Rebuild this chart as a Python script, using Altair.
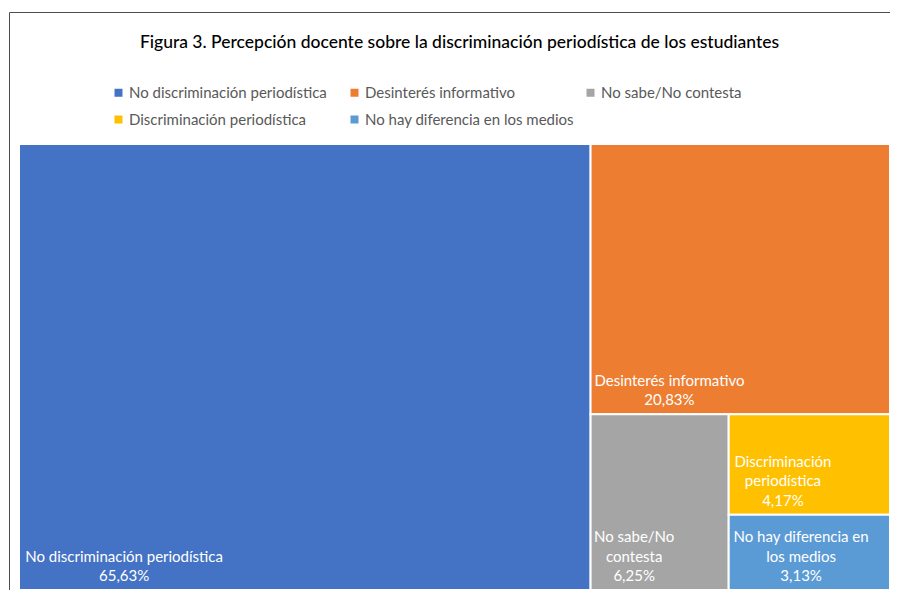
import altair as alt
import pandas as pd

# ---- data ----
categories = [
    "No discriminación periodística",
    "Desinterés informativo",
    "No sabe/No contesta",
    "Discriminación periodística",
    "No hay diferencia en los medios",
]
values = [65.63, 20.83, 6.25, 4.17, 3.13]
pct_labels = ["65,63%", "20,83%", "6,25%", "4,17%", "3,13%"]
label_lines = [
    ["No discriminación periodística"],
    ["Desinterés informativo"],
    ["No sabe/No", "contesta"],
    ["Discriminación", "periodística"],
    ["No hay diferencia en", "los medios"],
]
colors = ["#4472C4", "#ED7D31", "#A5A5A5", "#FFC000", "#5B9BD5"]
title_text = "Figura 3. Percepción docente sobre la discriminación periodística de los estudiantes"

W, H = 871, 446
FONT = "Lato"
FS = 15
LH = 19.5


def squarify(vals, x, y, w, h):
    rects = []
    vals = list(vals)

    def worst(row, short):
        s = sum(row)
        t = s / short
        return max(max(t * t / v, v / (t * t)) for v in row)

    while vals:
        short = min(w, h)
        row = [vals[0]]
        i = 1
        while i < len(vals) and worst(row + [vals[i]], short) <= worst(row, short):
            row.append(vals[i])
            i += 1
        t = sum(row) / short
        if w >= h:
            cy = y
            for v in row:
                rects.append((x, cy, x + t, cy + v / t))
                cy += v / t
            x += t
            w -= t
        else:
            cx = x
            for v in row:
                rects.append((cx, y, cx + v / t, y + t))
                cx += v / t
            y += t
            h -= t
        vals = vals[i:]
    return rects


total = sum(values)
areas = [v / total * W * H for v in values]
rects = squarify(areas, 0.0, 0.0, float(W), float(H))


def text_width(s, size=FS):
    narrow = set("ilíjtfr/,. I")
    wide = set("mwMNDH%")
    w = 0.0
    for ch in s:
        if ch in narrow:
            w += 0.30
        elif ch in wide:
            w += 0.78
        else:
            w += 0.52
    return w * size


rows = []
for cat, val, pct, lines, (x0, y0, x1, y1) in zip(categories, values, pct_labels, label_lines, rects):
    allines = lines + [pct]
    bw = max(text_width(s) for s in allines)
    n = len(allines)
    rows.append({
        "cat": cat,
        "value": val,
        "x0": x0 / W, "x1": x1 / W,
        "y0": y0 / H, "y1": y1 / H,
        "tx": (x0 + 4 + bw / 2) / W,
        "ty": (y1 - (n - 1) * LH) / H,
        "label": "\n".join(allines),
    })
df = pd.DataFrame(rows)

xs = alt.Scale(domain=[0, 1], nice=False, zero=False)
ys = alt.Scale(domain=[0, 1], nice=False, zero=False, reverse=True)

rect = alt.Chart(df).mark_rect(stroke="white", strokeWidth=2).encode(
    x=alt.X("x0:Q", scale=xs, axis=None),
    x2="x1:Q",
    y=alt.Y("y0:Q", scale=ys, axis=None),
    y2="y1:Q",
    color=alt.Color(
        "cat:N",
        scale=alt.Scale(domain=categories, range=colors),
        sort=categories,
        legend=alt.Legend(
            title=None,
            orient="none",
            direction="horizontal",
            legendX=92,
            legendY=-59,
            columns=3,
            gridAlign="all",
            symbolType="square",
            symbolSize=64,
            symbolStrokeWidth=0,
            labelFont=FONT,
            labelFontSize=FS,
            labelColor="#595959",
            labelOffset=3,
            labelLimit=400,
            rowPadding=11,
            columnPadding=9,
            padding=0,
        ),
    ),
)

text = alt.Chart(df).mark_text(
    align="center", baseline="bottom", dy=-6, fontSize=FS, font=FONT,
    color="white", lineBreak="\n", lineHeight=LH,
).encode(
    x=alt.X("tx:Q", scale=xs),
    y=alt.Y("ty:Q", scale=ys),
    text="label:N",
)

frame = pd.DataFrame({"a": [0]})
top_rule = alt.Chart(frame).mark_rule(color="#4d4d4d", strokeWidth=1).encode(
    x=alt.value(-9.5), x2=alt.value(W), y=alt.value(-131.5)
)
left_rule = alt.Chart(frame).mark_rule(color="#4d4d4d", strokeWidth=1).encode(
    x=alt.value(-9.5), y=alt.value(-131.5), y2=alt.value(H)
)

chart = alt.layer(rect, text, top_rule, left_rule).properties(
    width=W,
    height=H,
    autosize=alt.AutoSizeParams(type="none"),
    padding={"left": 11, "top": 136, "right": 0, "bottom": 0},
    title=alt.TitleParams(
        title_text, font=FONT, fontSize=17.5, fontWeight=500, color="#000000",
        anchor="middle", offset=-53.5, dx=5, baseline="alphabetic",
    ),
).configure_view(stroke=None)

chart.save("out.html", embed_options={"renderer": "svg", "actions": False})
